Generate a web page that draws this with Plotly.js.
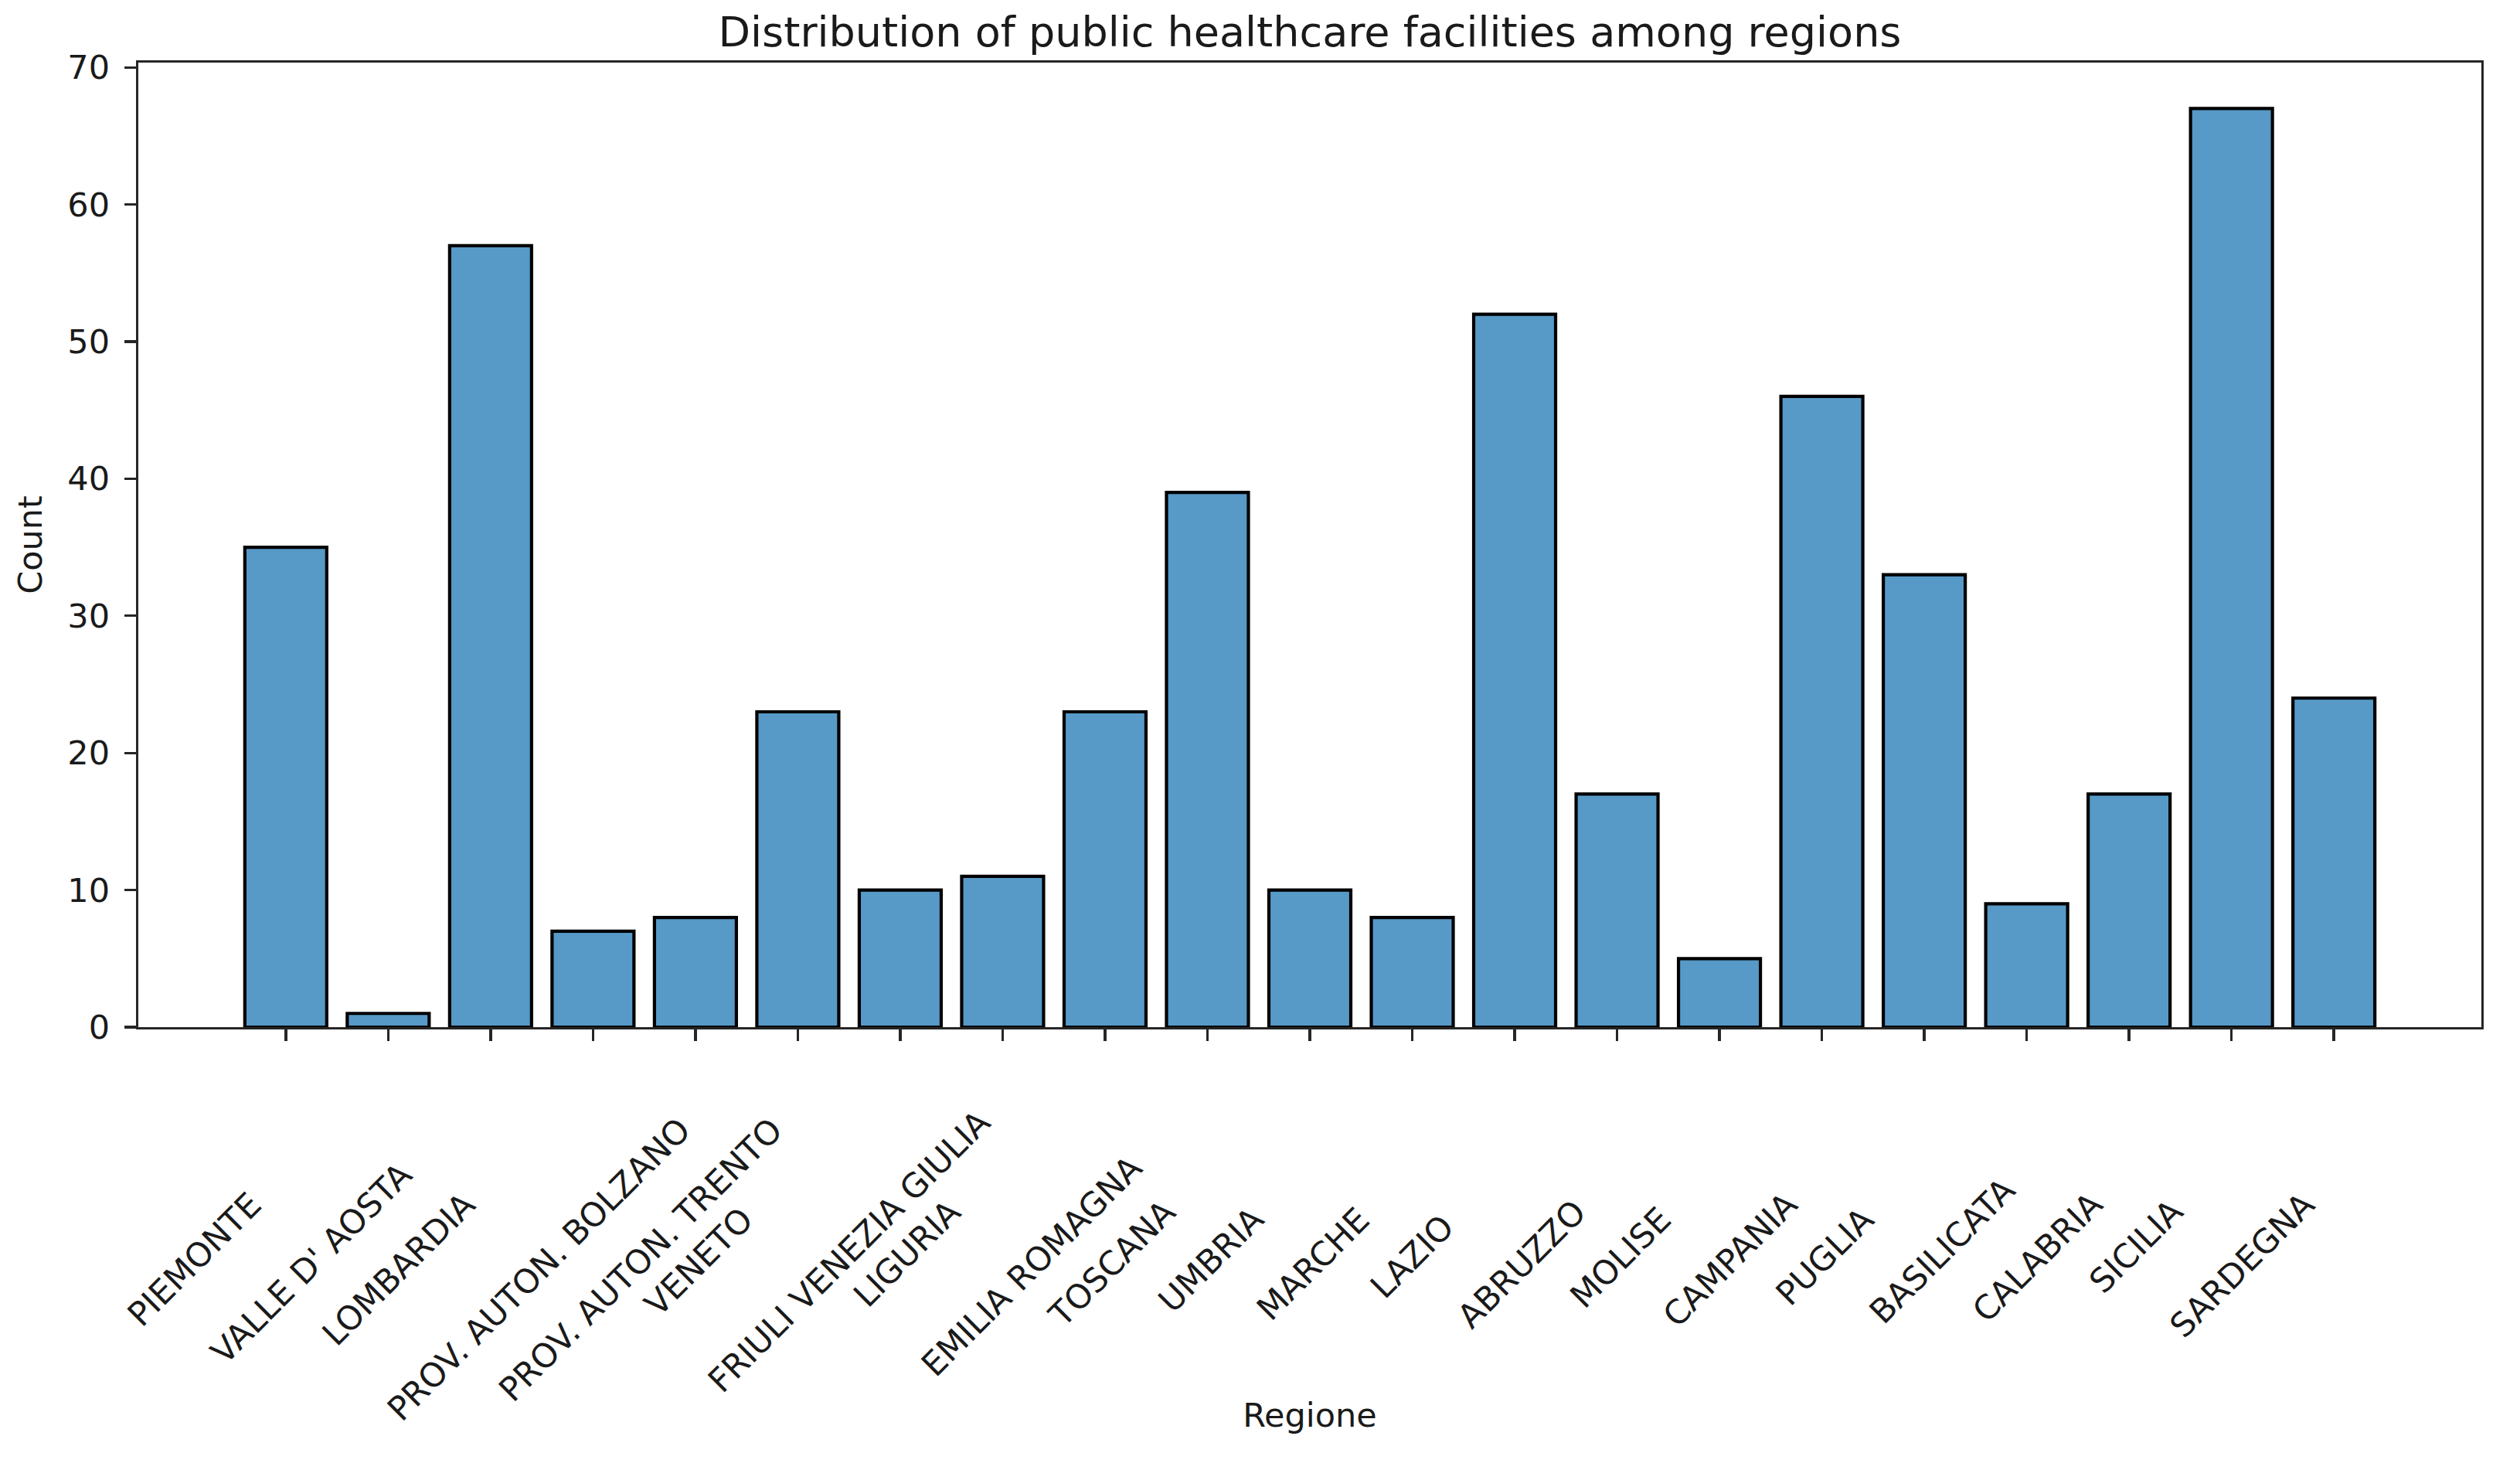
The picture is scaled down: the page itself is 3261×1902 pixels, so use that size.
<!DOCTYPE html>
<html>
<head>
<meta charset="utf-8">
<script src="https://cdn.plot.ly/plotly-3.0.1.min.js"></script>
<style>html,body{margin:0;padding:0;background:#fff;}#chart{width:3261px;height:1902px;}</style>
</head>
<body>
<div id="chart"></div>
<script>
// ---- data ----
var regions = ["PIEMONTE", "VALLE D' AOSTA", "LOMBARDIA", "PROV. AUTON. BOLZANO", "PROV. AUTON. TRENTO",
  "VENETO", "FRIULI VENEZIA GIULIA", "LIGURIA", "EMILIA ROMAGNA", "TOSCANA", "UMBRIA", "MARCHE",
  "LAZIO", "ABRUZZO", "MOLISE", "CAMPANIA", "PUGLIA", "BASILICATA", "CALABRIA", "SICILIA", "SARDEGNA"];
var counts = [35, 1, 57, 7, 8, 23, 10, 11, 23, 39, 10, 8, 52, 17, 5, 46, 33, 9, 17, 67, 24];
// trailing blanks present in the source label strings (fixed-width field)
var trailingBlanks = [18, 14, 18, 8, 8, 20, 7, 19, 13, 19, 20, 20, 21, 19, 20, 18, 20, 16, 18, 19, 18];
var yTicks = [0, 10, 20, 30, 40, 50, 60, 70];

var titleText = "Distribution of public healthcare facilities among regions";
var xTitle = "Regione";
var yTitle = "Count";

// ---- styling ----
var FONT = "DejaVu Sans";
var INK = "#1a1a1a";
var SPINE = "#262626";
var labelSize = 43;

var trace = {
  type: "bar",
  x: regions,
  y: counts,
  width: 0.8,
  marker: { color: "rgb(87,153,199)", line: { color: "#000000", width: 4.2 } },
  hoverinfo: "x+y"
};

var annotations = regions.map(function (r, i) {
  return {
    x: r, xref: "x",
    y: 0, yref: "paper",
    yanchor: "top", xanchor: "center",
    xshift: -32,
    yshift: -29,
    textangle: -45,
    showarrow: false,
    borderpad: 0,
    text: r + "\u00A0".repeat(trailingBlanks[i]),
    font: { family: FONT, size: labelSize, color: INK }
  };
});

var layout = {
  width: 3261, height: 1902,
  paper_bgcolor: "#ffffff", plot_bgcolor: "#ffffff",
  margin: { l: 179, r: 50, t: 81, b: 573, pad: 0 },
  showlegend: false,
  font: { family: FONT, color: INK },
  title: {
    text: titleText,
    font: { family: FONT, size: 54, color: INK },
    xref: "paper", x: 0.5, xanchor: "center",
    yref: "paper", y: 1, yanchor: "bottom",
    pad: { b: 21 }
  },
  xaxis: {
    type: "category",
    range: [-1.44, 21.44],
    showticklabels: false,
    ticks: "outside", ticklen: 15, tickwidth: 3.4, tickcolor: SPINE,
    showline: true, mirror: true, linecolor: SPINE, linewidth: 3.4,
    showgrid: false, zeroline: false,
    automargin: false,
    title: { text: xTitle, font: { family: FONT, size: labelSize, color: INK }, standoff: 470 }
  },
  yaxis: {
    range: [0, 70.35],
    tickmode: "array", tickvals: yTicks, ticktext: yTicks.map(String),
    ticks: "outside", ticklen: 15, tickwidth: 3.4, tickcolor: SPINE,
    tickfont: { family: FONT, size: labelSize, color: INK },
    ticklabelstandoff: 10,
    showline: true, mirror: true, linecolor: SPINE, linewidth: 3.4,
    showgrid: false, zeroline: false,
    automargin: false,
    title: { text: yTitle, font: { family: FONT, size: labelSize, color: INK }, standoff: 20 }
  },
  bargap: 0.2,
  annotations: annotations
};

Plotly.newPlot("chart", [trace], layout, { staticPlot: true, displayModeBar: false });
</script>
</body>
</html>
